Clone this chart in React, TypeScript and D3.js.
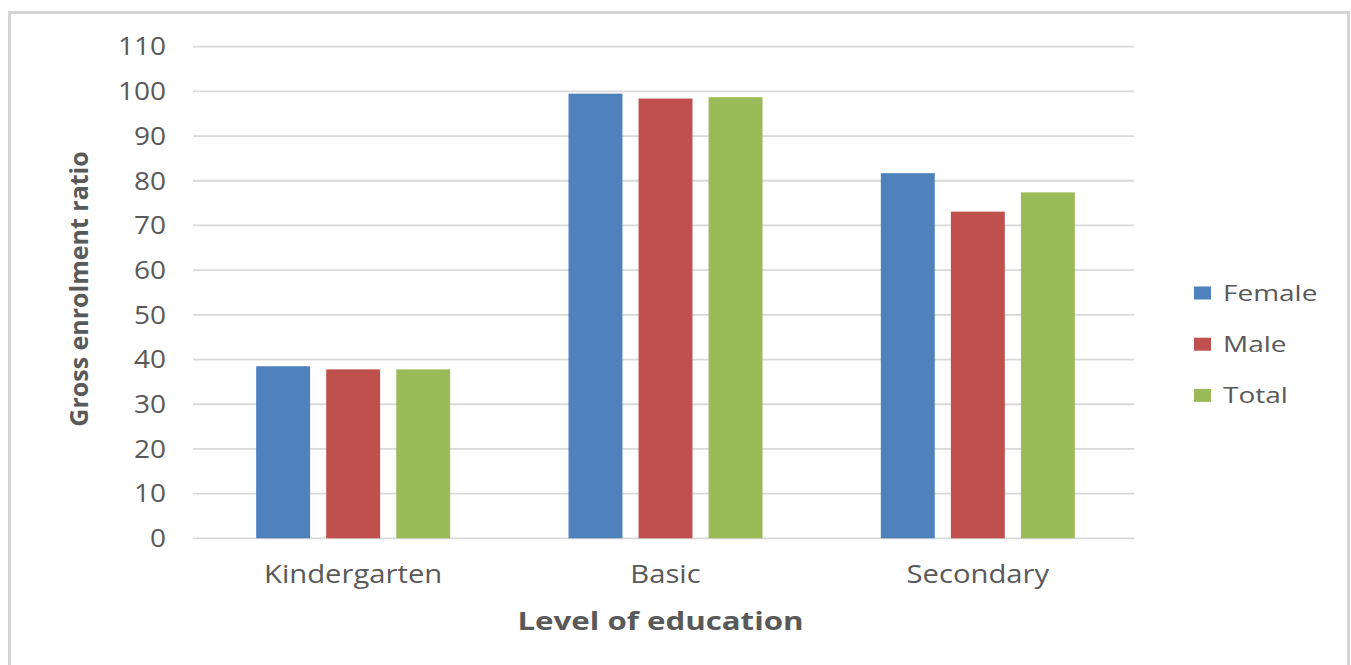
import React from "react";
import * as d3 from "d3";

const categories = ["Kindergarten", "Basic", "Secondary"];
const seriesNames = ["Female", "Male", "Total"];
const female = [38.5, 99.5, 81.7];
const male = [37.8, 98.4, 73.1];
const total = [37.8, 98.7, 77.4];
const yTicks = [0, 10, 20, 30, 40, 50, 60, 70, 80, 90, 100, 110];
const colors = ["#4f81bd", "#c0504d", "#9bbb59"];

const W = 1351;
const H = 665;
const plot = { left: 193, right: 1134, top: 46.7, bottom: 538.3 };
const FONT = "'Open Sans', sans-serif";
const TEXT = "#595959";

// Horizontal text drawn slightly widened, anchored at (x, y)
function Wide(props: {
  x: number;
  y: number;
  sx: number;
  anchor?: "start" | "middle" | "end";
  size: number;
  bold?: boolean;
  dy?: string;
  children: React.ReactNode;
}) {
  const { x, y, sx, anchor = "start", size, bold, dy, children } = props;
  return (
    <text
      transform={`translate(${x},${y}) scale(${sx},1)`}
      dy={dy}
      textAnchor={anchor}
      fontFamily={FONT}
      fontSize={size}
      fontWeight={bold ? "bold" : "normal"}
      fill={TEXT}
    >
      {children}
    </text>
  );
}

export default function App() {
  const values = [female, male, total];
  const x = d3.scaleBand<string>().domain(categories).range([197, plot.right]).padding(0);
  const inner = d3
    .scaleBand<string>()
    .domain(seriesNames)
    .range([-97, 97])
    .paddingInner(0.23)
    .paddingOuter(0);
  const y = d3.scaleLinear().domain([0, 110]).range([plot.bottom, plot.top]);

  return (
    <svg
      width={W}
      height={H}
      style={{ position: "absolute", left: 0, top: 0, background: "#fff" }}
    >
      <rect x={9.5} y={12.5} width={1339} height={700} fill="#fff" stroke="#d4d4d4" strokeWidth={3} />
      {yTicks.map((t) => (
        <g key={t}>
          <line x1={plot.left} x2={plot.right} y1={y(t)} y2={y(t)} stroke="#d9d9d9" strokeWidth={1.8} />
          <Wide x={166} y={y(t)} sx={1.12} anchor="end" size={25} dy="0.35em">
            {t}
          </Wide>
        </g>
      ))}
      {categories.map((c, ci) => {
        const cx = (x(c) ?? 0) + x.bandwidth() / 2;
        return (
          <g key={c}>
            {seriesNames.map((s, si) => (
              <rect
                key={s}
                x={cx + (inner(s) ?? 0)}
                y={y(values[si][ci])}
                width={inner.bandwidth()}
                height={y(0) - y(values[si][ci])}
                fill={colors[si]}
              />
            ))}
            <Wide x={cx} y={583} sx={1.17} anchor="middle" size={25}>
              {c}
            </Wide>
          </g>
        );
      })}
      <Wide x={660.5} y={630} sx={1.25} anchor="middle" size={25} bold>
        Level of education
      </Wide>
      <text
        transform={`translate(88,289) rotate(-90)`}
        textAnchor="middle"
        fontFamily={FONT}
        fontSize={25}
        fontWeight="bold"
        fill={TEXT}
      >
        Gross enrolment ratio
      </text>
      {seriesNames.map((s, i) => (
        <g key={s} transform={`translate(1194,${293 + i * 51.2})`}>
          <rect x={0} y={-6.5} width={17} height={13} fill={colors[i]} />
          <Wide x={29} y={0} sx={1.25} size={22.4} dy="0.35em">
            {s}
          </Wide>
        </g>
      ))}
    </svg>
  );
}
